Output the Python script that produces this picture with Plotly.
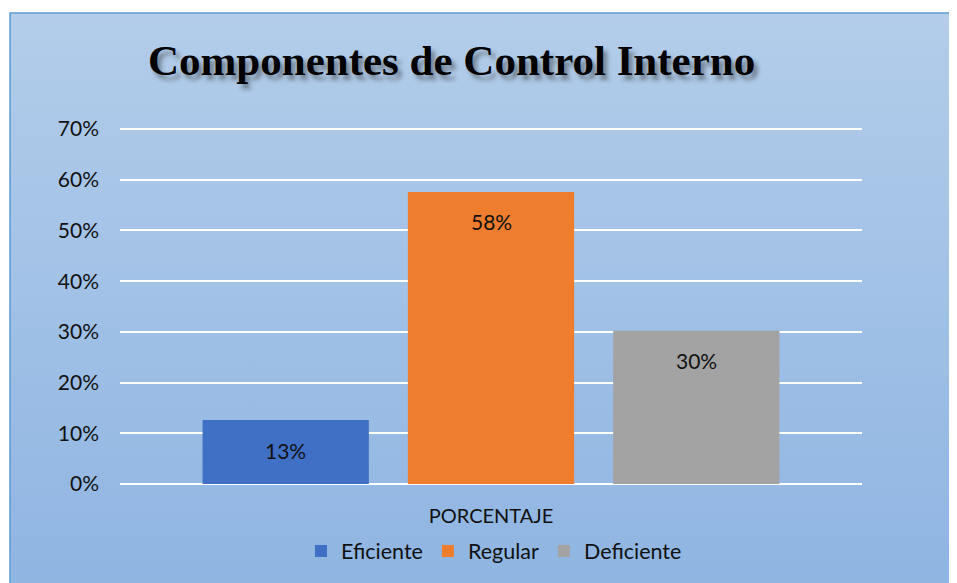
import base64
import plotly.graph_objects as go

# ---- data ----
category = ["PORCENTAJE"]
series_names = ["Eficiente", "Regular", "Deficiente"]
series_values = [0.126, 0.576, 0.302]
series_labels = ["13%", "58%", "30%"]
series_colors = ["#4070c6", "#ef7d2e", "#a3a3a3"]
tick_vals = [0, 0.1, 0.2, 0.3, 0.4, 0.5, 0.6, 0.7]
tick_text = ["0%", "10%", "20%", "30%", "40%", "50%", "60%", "70%"]
title_text = "Componentes de Control Interno"

Y_MAX = 0.71
BARGAP, BARGROUPGAP = 0.17, 0.19

OFF = 8  # page margin of the html body
W, H = 957 - OFF, 583 - OFF
# reference pixels: y=0 at 484, y=0.7 at 129, plot x from 120 to 862
px_per_unit = (484 - 129) / 0.7
ML = 120 - OFF
MB = H - (484 - OFF)
MT = (484 - OFF) - px_per_unit * Y_MAX
MR = W - (862 - OFF)
PW, PH = W - ML - MR, H - MT - MB


def px_x(p):
    return (p - OFF - ML) / PW


def px_y(p):
    return (H - MB - (p - OFF)) / PH


fig = go.Figure()
n = len(series_names)
slot = (1 - BARGAP) / n
for i, (name, val, lab, col) in enumerate(zip(series_names, series_values, series_labels, series_colors)):
    fig.add_trace(go.Bar(
        name=name, x=category, y=[val],
        marker=dict(color=col, line=dict(width=0)),
        hoverinfo="skip",
    ))
    # data label inside the bar, a little below its top
    fig.add_annotation(x=(i - (n - 1) / 2) * slot, y=val, xref="x", yref="y",
                       text=lab, showarrow=False, yanchor="middle", yshift=-30,
                       font=dict(family="Lato, Open Sans, sans-serif", size=21, color="#111111"))

# background gradient panel
svg = ('<svg xmlns="http://www.w3.org/2000/svg" width="100" height="100" preserveAspectRatio="none">'
       '<defs><linearGradient id="g" x1="0" y1="0" x2="0" y2="1">'
       '<stop offset="0" stop-color="#b3cdea"/><stop offset="1" stop-color="#8fb5e2"/>'
       '</linearGradient></defs><rect width="100" height="100" fill="url(#g)"/></svg>')
src = "data:image/svg+xml;base64," + base64.b64encode(svg.encode()).decode()
x0, x1 = px_x(10), px_x(956)
y0, y1 = px_y(13), px_y(583)
fig.add_layout_image(dict(source=src, xref="paper", yref="paper", x=x0, y=y0,
                          sizex=x1 - x0, sizey=y0 - y1, sizing="stretch",
                          xanchor="left", yanchor="top", layer="below"))
fig.add_shape(type="rect", xref="paper", yref="paper", x0=x0, x1=x1 + 0.01, y0=y1 - 0.01, y1=y0,
              line=dict(color="#5b9bd5", width=1.5), fillcolor="rgba(0,0,0,0)", layer="above")

fig.add_annotation(text="<b>" + title_text + "</b>", xref="paper", yref="paper",
                   x=px_x(451), y=px_y(60), xanchor="center", yanchor="middle", showarrow=False,
                   font=dict(family="Liberation Serif, Times New Roman, serif", size=43, color="#000000",
                             shadow="4px 5px 4px rgba(40,40,40,0.45)"))

fig.update_layout(
    width=W, height=H,
    margin=dict(l=ML, r=MR, t=MT, b=MB),
    paper_bgcolor="white", plot_bgcolor="rgba(0,0,0,0)",
    barmode="group", bargap=BARGAP, bargroupgap=BARGROUPGAP,
    showlegend=True,
    legend=dict(orientation="h", x=px_x(494), xanchor="center", y=px_y(551), yanchor="middle",
                font=dict(family="Lato, Open Sans, sans-serif", size=21.5, color="#111111"),
                bgcolor="rgba(0,0,0,0)", traceorder="normal", itemwidth=30),
    font=dict(family="Lato, Open Sans, sans-serif", size=20, color="#111111"),
)
fig.update_yaxes(range=[0, Y_MAX], tickvals=tick_vals, ticktext=tick_text,
                 showgrid=True, gridcolor="white", gridwidth=2,
                 zeroline=True, zerolinecolor="white", zerolinewidth=2,
                 showline=False, ticks="", ticklabelstandoff=20,
                 tickfont=dict(family="Lato, Open Sans, sans-serif", size=21, color="#111111"))
fig.update_xaxes(showgrid=False, showline=False, ticks="", ticklabelstandoff=18,
                 tickfont=dict(family="Lato, Open Sans, sans-serif", size=20, color="#111111"))

fig.write_html("out.html")
